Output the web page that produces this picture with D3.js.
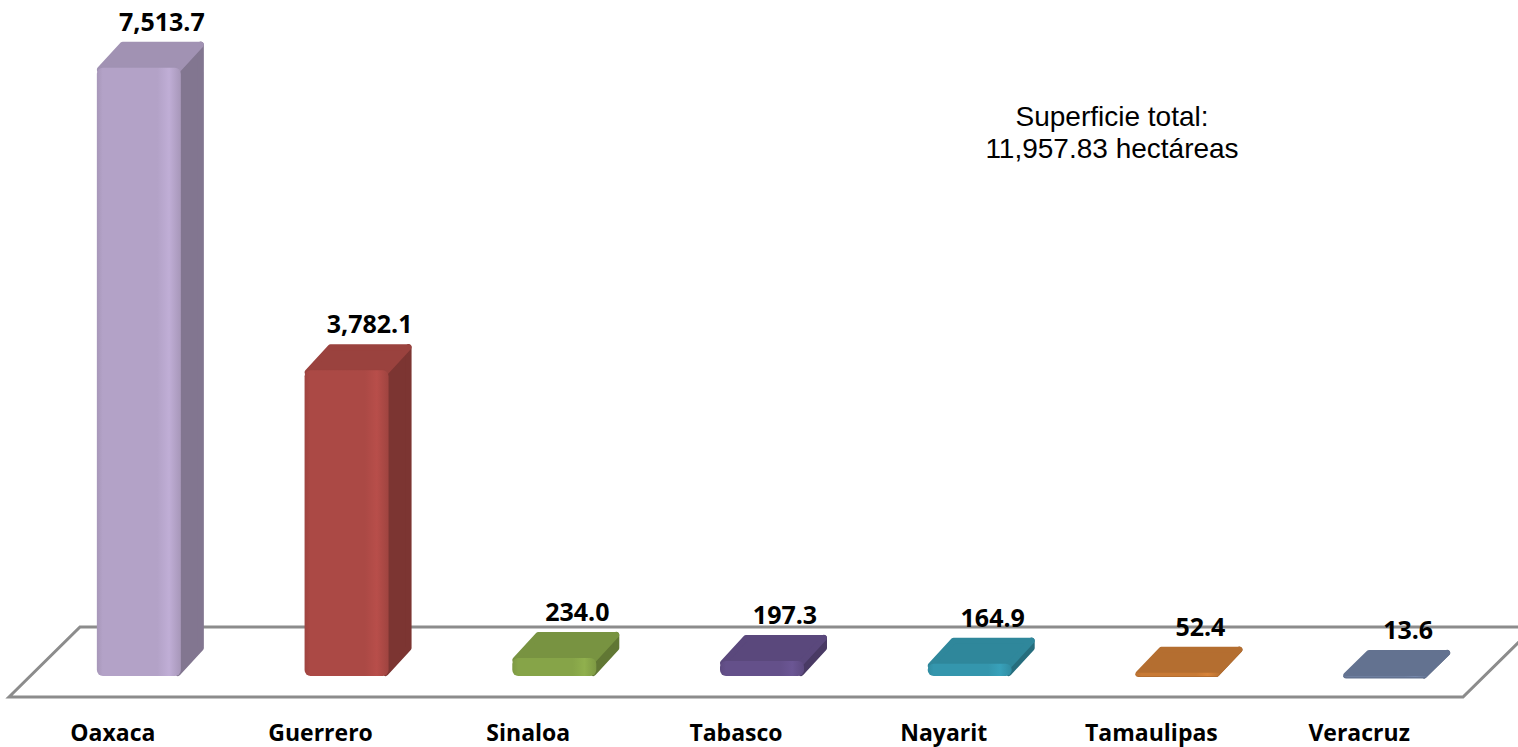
<!DOCTYPE html>
<html>
<head>
<meta charset="utf-8">
<script src="https://cdn.jsdelivr.net/npm/d3@7"></script>
<style>
  body { margin: 0; background: #fff; }
  svg { display: block; }
</style>
</head>
<body>
<svg id="chart" width="1518" height="747"></svg>
<script>
// data
const states = ['Oaxaca', 'Guerrero', 'Sinaloa', 'Tabasco', 'Nayarit', 'Tamaulipas', 'Veracruz']
const hectares = [7513.7, 3782.1, 234.0, 197.3, 164.9, 52.4, 13.6]
const frontColors = ['#b3a2c7', '#ab4945', '#86a448', '#64508a', '#3496ad', '#c87a35', '#6e7fa0']
const noteLines = ['Superficie total:', '11,957.83 hectáreas']

const svg = d3.select('#chart')

// floor plane, front edge + depth offset
const floorFront = 697
const floorDx = 71, floorDy = -70
const x = d3.scaleBand().domain(states).range([9, 1463])

// bars sit a bit behind the front edge
const base = 676
const barShift = 26
const barW = 84
const dx = 23, dy = -25

const y = d3.scaleLinear().domain([0, 8000]).range([base, base - 8000 * 0.0811])

const defs = svg.append('defs')
const shade = (c, k) => d3.color(c).darker(k).formatHex()
const pts = arr => arr.map(p => p.join(',')).join(' ')

states.forEach((s, i) => {
  const c = frontColors[i]
  const g = defs.append('linearGradient').attr('id', `front-${i}`)
    .attr('x1', 0).attr('x2', 1).attr('y1', 0).attr('y2', 0)
  g.append('stop').attr('offset', '0%').attr('stop-color', shade(c, 0.2))
  g.append('stop').attr('offset', '7%').attr('stop-color', c)
  g.append('stop').attr('offset', '72%').attr('stop-color', c)
  g.append('stop').attr('offset', '86%').attr('stop-color', d3.color(c).brighter(0.2).formatHex())
  g.append('stop').attr('offset', '100%').attr('stop-color', shade(c, 0.2))
})

// floor
const fx0 = x.range()[0], fx1 = x.range()[1]
svg.append('polygon')
  .attr('points', pts([
    [fx0, floorFront], [fx0 + floorDx, floorFront + floorDy],
    [fx1 + floorDx, floorFront + floorDy], [fx1, floorFront]
  ]))
  .attr('fill', '#fff')
  .attr('stroke', '#8c8c8c')
  .attr('stroke-width', 3)

const bars = svg.append('g')
const r = 3

states.forEach((s, i) => {
  const v = hectares[i]
  const c = frontColors[i]
  const x0 = x(s) + x.bandwidth() / 2 + barShift - barW / 2
  const x1 = x0 + barW
  const yt = y(v)
  const h = base - yt
  const ri = Math.min(r, h / 2)
  const g = bars.append('g')

  // side face
  g.append('polygon')
    .attr('points', pts([[x1 - r, yt + ri], [x1 + dx - r, yt + dy + r], [x1 + dx - r, base + dy + r - ri * 2 + Math.max(0, 0)], [x1 - r, base - ri]]))
    .attr('fill', shade(c, 0.9))
    .attr('stroke', shade(c, 0.9)).attr('stroke-width', r * 2).attr('stroke-linejoin', 'round')

  // top face
  g.append('polygon')
    .attr('points', pts([[x0 + r, yt + ri], [x0 + dx + r, yt + dy + r], [x1 + dx - r, yt + dy + r], [x1 - r, yt + ri]]))
    .attr('fill', shade(c, 0.3))
    .attr('stroke', shade(c, 0.3)).attr('stroke-width', r * 2).attr('stroke-linejoin', 'round')

  // front face
  g.append('rect')
    .attr('x', x0).attr('y', yt + 1)
    .attr('width', barW).attr('height', Math.max(h - 1, 1))
    .attr('rx', Math.min(6, h / 2))
    .attr('fill', `url(#front-${i})`)

  // value label
  svg.append('text')
    .attr('x', x0 + barW / 2 + dx)
    .attr('y', yt - 36)
    .attr('text-anchor', 'middle')
    .style('font-family', '"Open Sans", sans-serif')
    .style('font-weight', 'bold')
    .style('font-size', '25px')
    .attr('fill', '#000')
    .text(d3.format(',.1f')(v))
})

// category labels
svg.append('g').selectAll('text')
  .data(states)
  .join('text')
  .attr('x', d => x(d) + x.bandwidth() / 2)
  .attr('y', 741)
  .attr('text-anchor', 'middle')
  .style('font-family', '"Open Sans", sans-serif')
  .style('font-weight', 'bold')
  .style('font-size', '23px')
  .attr('fill', '#000')
  .text(d => d)

// note
svg.append('g').selectAll('text')
  .data(noteLines)
  .join('text')
  .attr('x', 1112)
  .attr('y', (d, i) => 126 + i * 32)
  .attr('text-anchor', 'middle')
  .style('font-family', '"Liberation Sans", Arial, sans-serif')
  .style('font-size', '28px')
  .attr('fill', '#000')
  .text(d => d)
</script>
</body>
</html>
